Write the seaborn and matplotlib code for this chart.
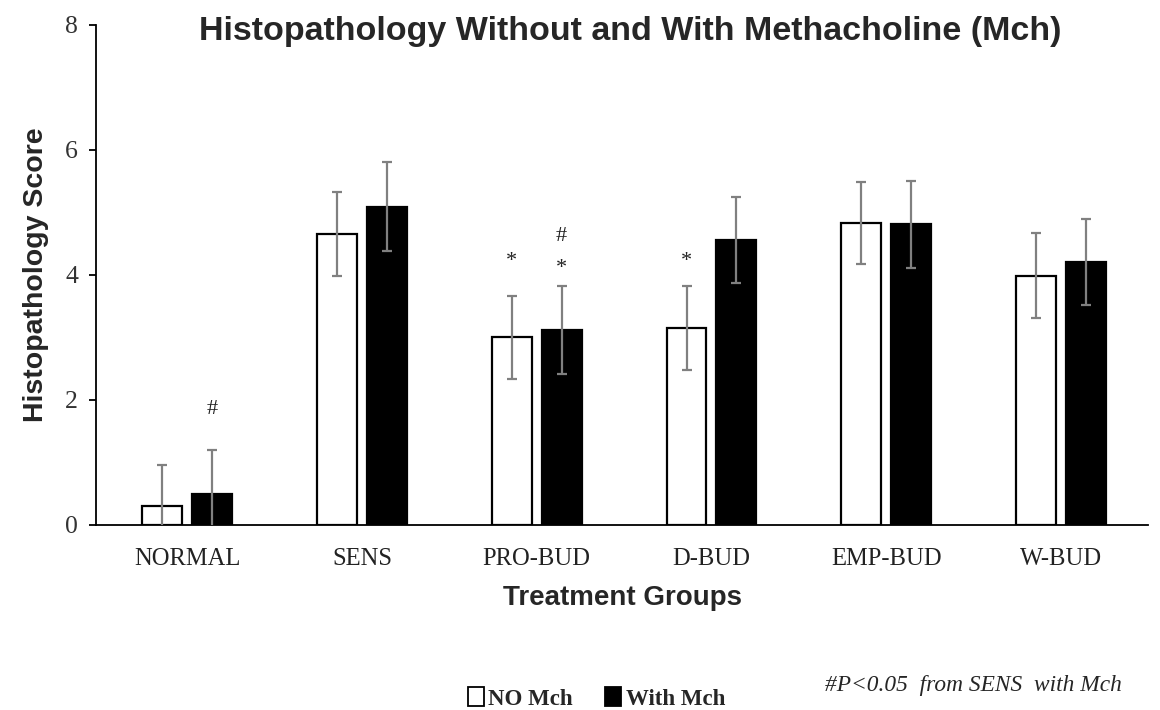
import numpy as np
import pandas as pd
import matplotlib.pyplot as plt
import seaborn as sns

# datos
grupos = ['NORMAL', 'SENS', 'PRO-BUD', 'D-BUD', 'EMP-BUD', 'W-BUD']
series = ['NO Mch', 'With Mch']
score_no = [0.30, 4.66, 3.00, 3.15, 4.83, 3.99]
score_mch = [0.50, 5.09, 3.12, 4.56, 4.81, 4.21]
err_no = [0.66, 0.67, 0.67, 0.67, 0.66, 0.68]
err_mch = [0.70, 0.71, 0.70, 0.69, 0.70, 0.69]
# marcas de significancia (grupo, serie, texto, altura)
marcas = [
    ('NORMAL', 'With Mch', '#', 1.85),
    ('PRO-BUD', 'NO Mch', '*', 4.22),
    ('PRO-BUD', 'With Mch', '*', 4.10),
    ('PRO-BUD', 'With Mch', '#', 4.62),
    ('D-BUD', 'NO Mch', '*', 4.22),
]

df = pd.DataFrame({
    'Grupo': grupos * 2,
    'Serie': [series[0]] * len(grupos) + [series[1]] * len(grupos),
    'Score': score_no + score_mch,
    'Err': err_no + err_mch,
})

sns.set_style('white')
plt.rcParams['font.family'] = ['Liberation Sans', 'DejaVu Sans']

fig = plt.figure(figsize=(11.6, 7.1), dpi=100)
ax = fig.add_axes([0.083, 0.2606, 0.907, 0.7044])

sns.barplot(data=df, x='Grupo', y='Score', hue='Serie', order=grupos,
            hue_order=series, palette=['white', 'black'], width=0.57, gap=0.2,
            edgecolor='black', linewidth=1.6, errorbar=None, legend=False, ax=ax)

# barras de error desde las posiciones de las barras
pos = {}
for cont, serie in zip(ax.containers, series):
    sub = df[df['Serie'] == serie].set_index('Grupo').loc[grupos]
    xs = [p.get_x() + p.get_width() / 2 for p in cont]
    for g, x in zip(grupos, xs):
        pos[(g, serie)] = x
    ax.errorbar(xs, sub['Score'], yerr=sub['Err'], fmt='none', ecolor='#808080',
                elinewidth=1.6, capsize=3.8, capthick=1.6, zorder=5)

for g, s, txt, y in marcas:
    ax.text(pos[(g, s)], y, txt, ha='center', va='center', fontsize=16,
            family='Liberation Serif', color='#222222')

ax.set_ylim(0, 8)
ax.set_yticks([0, 2, 4, 6, 8])
ax.set_xlim(-0.52, 5.5)
sns.despine(ax=ax)
ax.spines['left'].set_linewidth(1.3)
ax.spines['bottom'].set_linewidth(1.3)
ax.spines['left'].set_color('black')
ax.spines['bottom'].set_color('black')
ax.tick_params(axis='y', left=True, length=5, width=1.3, direction='out',
               labelsize=18.5, pad=8, colors='black', labelcolor='#333333')
ax.tick_params(axis='x', bottom=False, labelsize=17.7, pad=13, labelcolor='#222222')
for lab in ax.get_xticklabels() + ax.get_yticklabels():
    lab.set_family('Liberation Serif')

ax.set_xlabel('Treatment Groups', fontsize=20, fontweight='bold', labelpad=11)
ax.set_ylabel('Histopathology Score', fontsize=20.5, fontweight='bold', labelpad=12)
fig.text(0.543, 0.955, 'Histopathology Without and With Methacholine (Mch)',
         ha='center', va='center', fontsize=24.5, fontweight='bold')

handles = [plt.Rectangle((0, 0), 1, 1, facecolor=c, edgecolor='black', linewidth=1.3)
           for c in ['white', 'black']]
fig.legend(handles, series, loc='center', bbox_to_anchor=(0.514, 0.016), ncol=2,
           frameon=False, handlelength=0.7, handleheight=0.9, handletextpad=0.2,
           columnspacing=1.4, prop={'family': 'Liberation Serif', 'weight': 'bold', 'size': 16.5})
fig.text(0.839, 0.035, '#P<0.05  from SENS  with Mch', ha='center', va='center',
         fontsize=16.8, style='italic', family='Liberation Serif')

fig.savefig('out.png', dpi=100)
